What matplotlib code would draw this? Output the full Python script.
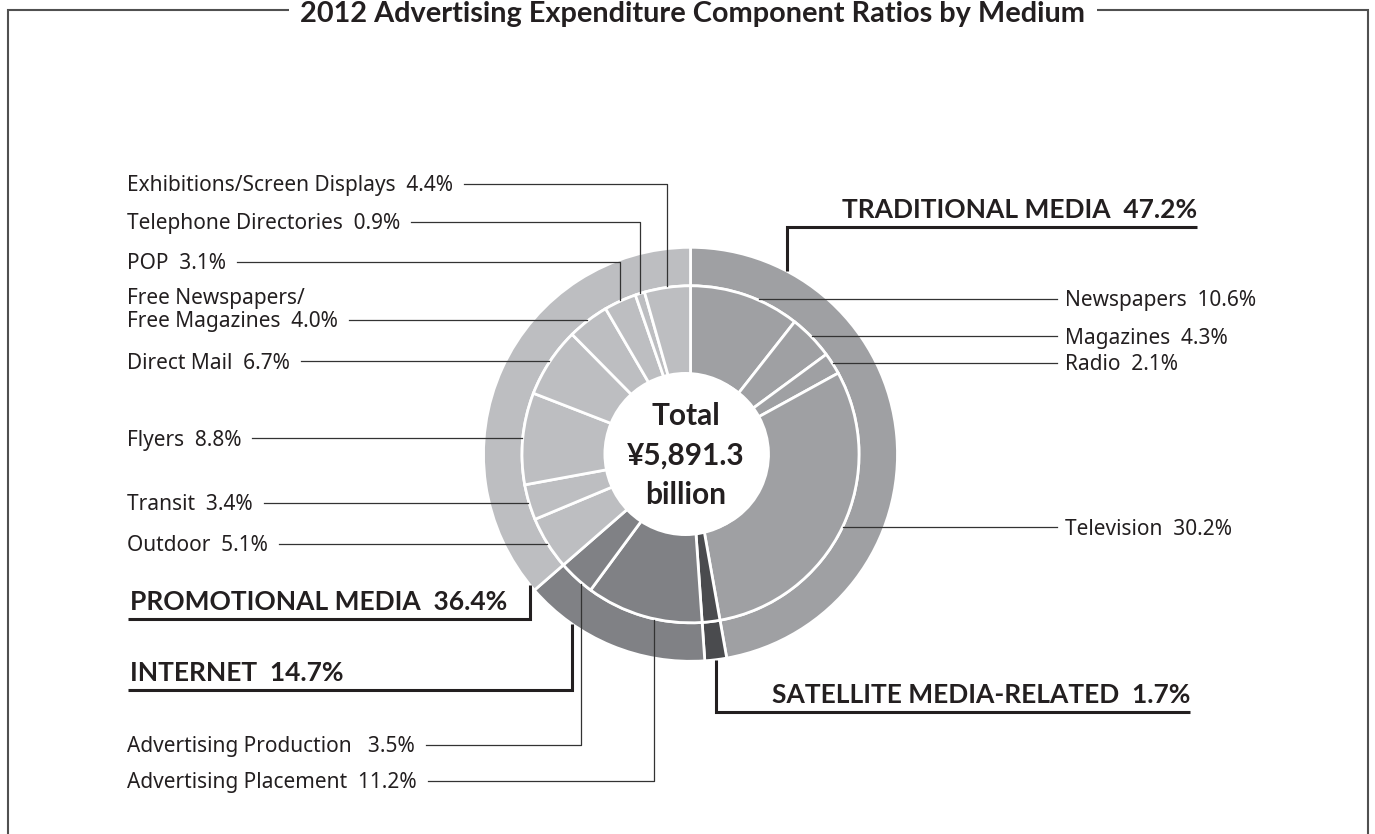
import numpy as np
import matplotlib.pyplot as plt
from matplotlib.patches import Circle

plt.rcParams['font.family'] = ['Noto Sans', 'DejaVu Sans']
BOLD_FAMILY = ['Lato', 'DejaVu Sans']

# ====== DATA ======
title = "2012 Advertising Expenditure Component Ratios by Medium"
total_lines = ["Total", "¥5,891.3", "billion"]

group_names = ["TRADITIONAL MEDIA", "SATELLITE MEDIA-RELATED", "INTERNET", "PROMOTIONAL MEDIA"]
group_pct = [47.2, 1.7, 14.7, 36.4]

media_names = ["Newspapers", "Magazines", "Radio", "Television",
               "Satellite Media-Related",
               "Advertising Placement", "Advertising Production",
               "Outdoor", "Transit", "Flyers", "Direct Mail",
               "Free Newspapers/\nFree Magazines", "POP",
               "Telephone Directories", "Exhibitions/Screen Displays"]
media_pct = [10.6, 4.3, 2.1, 30.2, 1.7, 11.2, 3.5,
             5.1, 3.4, 8.8, 6.7, 4.0, 3.1, 0.9, 4.4]
media_group = [0, 0, 0, 0, 1, 2, 2, 3, 3, 3, 3, 3, 3, 3, 3]

# ====== STYLE / LAYOUT ======
W, H = 1375, 834
CX, CY = 690.5, 454.3
R_OUT, R_MID, R_HOLE = 207, 168.5, 78
group_colors = ['#9fa0a3', '#4a4b4e', '#808185', '#bdbec1']
INK = '#231f20'
THIN = '#333333'
LABEL_SIZE = 15
GROUP_SIZE = 19

# side, label y (None -> anchor y), position inside the slice, gap text
sub_layout = {
    "Newspapers": dict(side="R", frac=0.62),
    "Magazines": dict(side="R"),
    "Radio": dict(side="R"),
    "Television": dict(side="R"),
    "Advertising Placement": dict(side="L", ly=781, frac=0.41),
    "Advertising Production": dict(side="L", ly=745, frac=0.3, gap="   "),
    "Outdoor": dict(side="L"),
    "Transit": dict(side="L"),
    "Flyers": dict(side="L"),
    "Direct Mail": dict(side="L"),
    "Free Newspapers/\nFree Magazines": dict(side="L"),
    "POP": dict(side="L", ly=262),
    "Telephone Directories": dict(side="L", ly=222),
    "Exhibitions/Screen Displays": dict(side="L", ly=184),
}
group_layout = [
    dict(side="R", frac=0.164, ly=227, x_end=1197),
    dict(side="R", frac=0.5, ly=712, x_end=1190),
    dict(side="L", frac=0.735, ly=690, x_end=128),
    dict(side="L", frac=0.014, ly=619, x_end=128),
]

fig = plt.figure(figsize=(W / 100, H / 100), dpi=100)
ax = fig.add_axes([0, 0, 1, 1])

# y axis runs downward, so counterclock in data = clockwise on screen
outer, _ = ax.pie(group_pct, radius=R_OUT, center=(CX, CY), startangle=-90,
                  counterclock=True, colors=group_colors,
                  wedgeprops=dict(width=R_OUT - R_MID, edgecolor='white', linewidth=2))
inner, _ = ax.pie(media_pct, radius=R_MID, center=(CX, CY), startangle=-90,
                  counterclock=True, colors=[group_colors[g] for g in media_group],
                  wedgeprops=dict(width=R_MID - R_HOLE, edgecolor='white', linewidth=2))

ax.set_xlim(0, W)
ax.set_ylim(H, 0)
ax.set_aspect('equal')
ax.axis('off')

ax.add_patch(Circle((685.5, 454), 82, fc='white', ec='none', zorder=3))
for txt, yb in zip(total_lines, [425, 465, 504]):
    ax.text(685.5, yb, txt, ha='center', va='baseline', fontsize=21.5,
            family=BOLD_FAMILY, fontweight='bold', color=INK, zorder=4)


def anchor(w, frac, r):
    th = np.radians(w.theta1 + frac * (w.theta2 - w.theta1))
    return w.center[0] + r * np.cos(th), w.center[1] + r * np.sin(th)


renderer = fig.canvas.get_renderer()
inv = ax.transData.inverted()

# ====== SUB-CATEGORY LABELS ======
for i, name in enumerate(media_names):
    if name not in sub_layout:
        continue
    L = sub_layout[name]
    x0, y0 = anchor(inner[i], L.get('frac', 0.5), R_MID + 1)
    ly = L.get('ly', y0)
    lines = name.split('\n')
    label = f"{lines[-1]}{L.get('gap', '  ')}{media_pct[i]:.1f}%"
    base = ly + 7.4
    if L['side'] == "R":
        ax.text(1065, base, label, ha='left', va='baseline', fontsize=LABEL_SIZE, color=INK)
        ax.plot([x0, 1057], [ly, ly], color=THIN, lw=0.9, zorder=5)
    else:
        t = ax.text(127, base, label, ha='left', va='baseline', fontsize=LABEL_SIZE, color=INK)
        for k, extra in enumerate(reversed(lines[:-1])):
            ax.text(127, base - 23 * (k + 1), extra, ha='left', va='baseline',
                    fontsize=LABEL_SIZE, color=INK)
        x1 = inv.transform(t.get_window_extent(renderer))[1, 0]
        ax.plot([x1 + 11, x0, x0], [ly, ly, y0], color=THIN, lw=0.9, zorder=5)

# ====== GROUP LABELS ======
for j, name in enumerate(group_names):
    L = group_layout[j]
    x0, y0 = anchor(outer[j], L['frac'], R_OUT)
    ly = L['ly']
    label = f"{name}  {group_pct[j]:.1f}%"
    ax.plot([x0, x0, L['x_end']], [y0, ly, ly], color=INK, lw=2.2,
            solid_joinstyle='miter', solid_capstyle='butt', zorder=5)
    if L['side'] == "R":
        ax.text(L['x_end'], ly - 9, label, ha='right', va='baseline',
                fontsize=GROUP_SIZE, family=BOLD_FAMILY, fontweight='bold', color=INK)
    else:
        ax.text(L['x_end'] + 2, ly - 9, label, ha='left', va='baseline',
                fontsize=GROUP_SIZE, family=BOLD_FAMILY, fontweight='bold', color=INK)

# ====== FRAME + TITLE ======
ax.plot([8, 8, 1368, 1368], [850, 10, 10, 850], color='#505050', lw=1.5,
        solid_joinstyle='miter')
ax.text(693, 22, title, ha='center', va='baseline', fontsize=20.8,
        family=BOLD_FAMILY, fontweight='bold', color=INK, zorder=6,
        bbox=dict(boxstyle='square,pad=0.4', fc='white', ec='none'))

fig.savefig("out.png", dpi=100)
